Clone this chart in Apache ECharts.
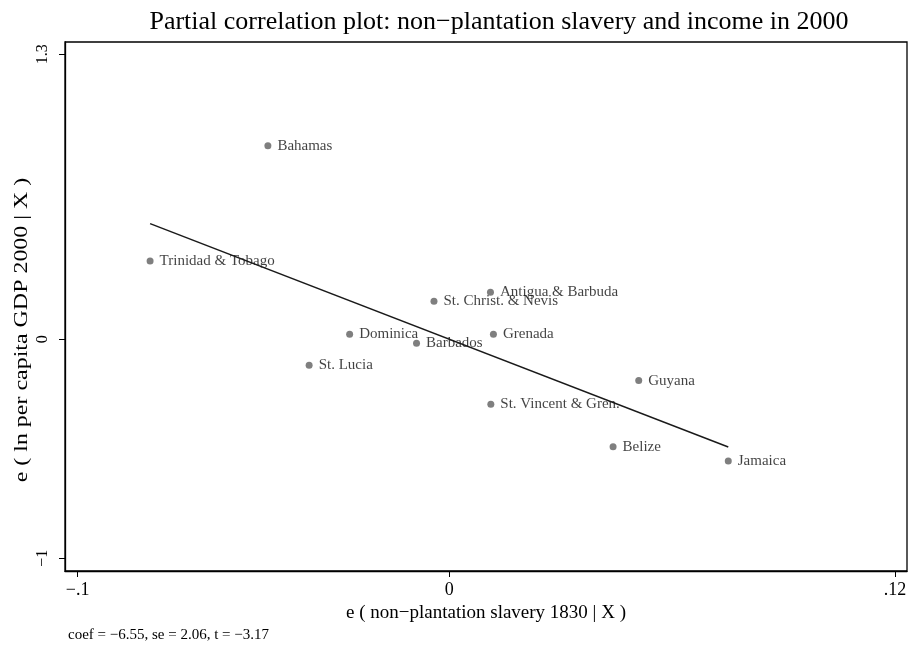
<!DOCTYPE html>
<html><head><meta charset="utf-8">
<script src="https://cdn.jsdelivr.net/npm/echarts@6/dist/echarts.min.js"></script>
<style>html,body{margin:0;padding:0;background:#fff}#c{width:910px;height:647px}</style>
</head><body><div id="c"></div>
<script>
const countries = ["Bahamas","Trinidad & Tobago","Antigua & Barbuda","St. Christ. & Nevis","Dominica","Barbados","Grenada","St. Lucia","St. Vincent & Gren.","Guyana","Belize","Jamaica"];
const xValues = [-0.0488,-0.0805,0.0111,-0.0041,-0.0268,-0.0088,0.0119,-0.0377,0.0112,0.0510,0.0441,0.0751];
const yValues = [0.882,0.357,0.214,0.173,0.022,-0.019,0.022,-0.119,-0.297,-0.189,-0.491,-0.556];
const xTicks = [-0.1, 0, 0.12];
const yTicks = [-1, 0, 1.3];
const coef = -6.55, intercept = 0;
const noteText = "coef = \u22126.55, se = 2.06, t = \u22123.17";
const yTitle = 'e ( ln per capita GDP 2000 | X )';
const xTitle = 'e ( non\u2212plantation slavery 1830 | X )';

const fmt = v => {
  let s = (Math.abs(v) < 1 && v !== 0) ? String(Math.abs(v)).replace(/^0/, '') : String(Math.abs(v));
  return (v < 0 ? '\u2212' : '') + s;
};
const pts = xValues.map((x,i)=>({value:[x,yValues[i]], name:countries[i]}));
const xmin = Math.min(...xValues), xmax = Math.max(...xValues);
const fitLine = [[xmin, intercept + coef*xmin],[xmax, intercept + coef*xmax]];
const serif = '"Liberation Serif","DejaVu Serif",serif';
const chart = echarts.init(document.getElementById('c'));
chart.setOption({
  animation:false,
  title:{text:'Partial correlation plot: non\u2212plantation slavery and income in 2000', left:494, textAlign:'center', top:4,
    textStyle:{fontFamily:serif, fontSize:26, fontWeight:'normal', color:'#000'}},
  graphic:[
    {type:'text', left:68, top:628, style:{text:noteText, font:'15px '+serif, fill:'#000'}},
    {type:'text', x:22, y:330, rotation:Math.PI/2, style:{text:yTitle, font:'19px '+serif, fill:'#000', align:'center', verticalAlign:'middle'}, scaleX:1.26}
  ],
  grid:{left:65, top:42, right:3, bottom:76, show:true, borderColor:'#000', borderWidth:1.3, backgroundColor:'#fff'},
  xAxis:{type:'value', min:-0.1034, max:0.1232, splitLine:{show:false},
    axisLine:{onZero:false, lineStyle:{color:'#000', width:1.3}},
    axisTick:{customValues:xTicks, length:6, lineStyle:{color:'#000'}},
    axisLabel:{customValues:xTicks, formatter:fmt, margin:10, fontFamily:serif, fontSize:18, color:'#000'},
    name:xTitle, nameLocation:'middle', nameGap:32,
    nameTextStyle:{fontFamily:serif, fontSize:19, color:'#000'}},
  yAxis:{type:'value', min:-1.058, max:1.356, splitLine:{show:false},
    axisLine:{onZero:false, lineStyle:{color:'#000', width:1.3}},
    axisTick:{customValues:yTicks, length:6, lineStyle:{color:'#000'}},
    axisLabel:{customValues:yTicks, formatter:fmt, rotate:90, margin:22, fontFamily:serif, fontSize:16, color:'#000', align:'center', verticalAlign:'middle'}},
  series:[
    {type:'scatter', data:pts, symbolSize:7, itemStyle:{color:'#5f5f5f'},
     label:{show:true, position:'right', distance:6, formatter:p=>p.name, fontFamily:serif, fontSize:15, color:'#111'}},
    {type:'line', data:fitLine, symbol:'none', lineStyle:{color:'#1a1a1a', width:1.5}, z:3}
  ]
});
</script></body></html>
